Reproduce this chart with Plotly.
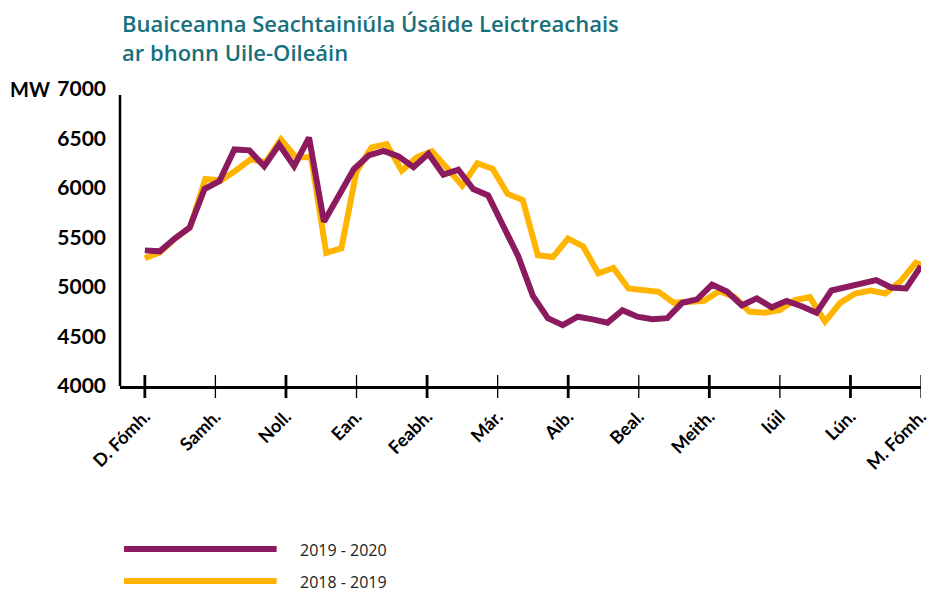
import plotly.graph_objects as go

# ---- data ----
month_labels = ["D. Fómh.", "Samh.", "Noll.", "Ean.", "Feabh.", "Már.", "Aib.",
                "Beal.", "Meith.", "Iúil", "Lún.", "M. Fómh."]

mw_2019_2020 = [5370, 5360, 5490, 5600, 5990, 6070, 6390, 6380, 6220, 6440,
                6220, 6510, 5660, 5925, 6190, 6330, 6375, 6320, 6210, 6345,
                6135, 6185, 5990, 5925, 5610, 5315, 4910, 4685, 4615, 4700,
                4673, 4640, 4765, 4700, 4675, 4685, 4840, 4875, 5025, 4955,
                4815, 4885, 4795, 4860, 4805, 4740, 4965, 5000, 5035, 5070,
                4995, 4985, 5210]

mw_2018_2019 = [5290, 5350, 5490, 5605, 6090, 6075, 6175, 6290, 6260, 6490,
                6310, 6310, 5345, 5390, 6165, 6410, 6444, 6175, 6312, 6370,
                6200, 6024, 6250, 6195, 5940, 5880, 5320, 5303, 5490, 5410,
                5138, 5192, 4985, 4962, 4951, 4840, 4851, 4861, 4958, 4900,
                4752, 4740, 4766, 4868, 4897, 4650, 4840, 4934, 4965, 4934,
                5060, 5245, 5190]

y_ticks = [4000, 4500, 5000, 5500, 6000, 6500, 7000]

series_names = ["2019 - 2020", "2018 - 2019"]
series_colors = ["#8C1A5F", "#FFB500"]

# weekly step along the month axis (one unit = one month tick)
step_1920 = 11 / 52
step_1819 = 11 / 51.35
x_1920 = [i * step_1920 for i in range(len(mw_2019_2020))]
x_1819 = [i * step_1819 for i in range(len(mw_2018_2019))]

fig = go.Figure()
fig.add_trace(go.Scatter(x=x_1819, y=mw_2018_2019, mode="lines", name=series_names[1],
                         line=dict(color=series_colors[1], width=6), showlegend=False))
fig.add_trace(go.Scatter(x=x_1920, y=mw_2019_2020, mode="lines", name=series_names[0],
                         line=dict(color=series_colors[0], width=6), showlegend=False))

PLOT_L, PLOT_R, PLOT_T, PLOT_B = 120, 928, 89, 386
W, H = 942, 592
pw, ph = PLOT_R - PLOT_L, PLOT_B - PLOT_T


def px_x(px):
    return (px - PLOT_L) / pw


def px_y(py):
    return (PLOT_B - py) / ph


shapes = []
# y axis line (stops a little below the top)
shapes.append(dict(type="line", xref="paper", yref="paper", x0=0, x1=0,
                   y0=0, y1=px_y(95), line=dict(color="black", width=2.5)))
# crossing tick marks on the category axis
for i in range(len(month_labels)):
    shapes.append(dict(type="line", xref="x", yref="paper", x0=i, x1=i,
                       y0=px_y(398), y1=px_y(375),
                       line=dict(color="black", width=2.8 if i % 2 == 0 else 1.3)))

title_font = dict(family="Open Sans", size=22, color="#17707C", weight=600)
annotations = []
annotations.append(dict(text="Buaiceanna Seachtainiúla Úsáide Leictreachais<br>ar bhonn Uile-Oileáin",
                        xref="paper", yref="paper", x=px_x(120), y=px_y(6),
                        xanchor="left", yanchor="top", align="left", showarrow=False,
                        font=title_font))
annotations.append(dict(text="<b>MW</b>", xref="paper", yref="paper",
                        x=px_x(7), y=px_y(89), xanchor="left", yanchor="middle",
                        showarrow=False, font=dict(family="Lato", size=20, color="black")))

# legend drawn manually (long line samples)
legend_rows = [549, 581]
for name, color, row in zip(series_names, series_colors, legend_rows):
    shapes.append(dict(type="line", xref="paper", yref="paper",
                       x0=px_x(124), x1=px_x(278), y0=px_y(row), y1=px_y(row),
                       line=dict(color=color, width=6)))
    annotations.append(dict(text=name, xref="paper", yref="paper",
                            x=px_x(300), y=px_y(row + 1), xanchor="left", yanchor="middle",
                            showarrow=False,
                            font=dict(family="Open Sans", size=16, color="#222222")))

fig.update_layout(
    width=W, height=H,
    margin=dict(l=PLOT_L, r=W - PLOT_R, t=PLOT_T, b=H - PLOT_B, pad=0),
    paper_bgcolor="white", plot_bgcolor="white",
    showlegend=False,
    shapes=shapes, annotations=annotations,
    xaxis=dict(range=[-0.352, 11.0], tickmode="array",
               tickvals=list(range(len(month_labels))),
               ticktext=["<b>%s</b>" % t for t in month_labels],
               tickangle=-45, ticks="", showgrid=False, zeroline=False,
               showline=True, linecolor="black", linewidth=2.8,
               tickfont=dict(family="Lato", size=18, color="black"),
               ticklabelstandoff=10),
    yaxis=dict(range=[4000, 7000], tickmode="array", tickvals=y_ticks,
               ticktext=["<b>%d</b>" % v for v in y_ticks],
               ticks="", showgrid=False, zeroline=False, showline=False,
               tickfont=dict(family="Lato", size=21, color="black"),
               ticklabelstandoff=13),
)

fig.write_html("out.html", config={"displayModeBar": False},
               post_script="document.body.style.margin='0';document.body.style.overflow='hidden';")
